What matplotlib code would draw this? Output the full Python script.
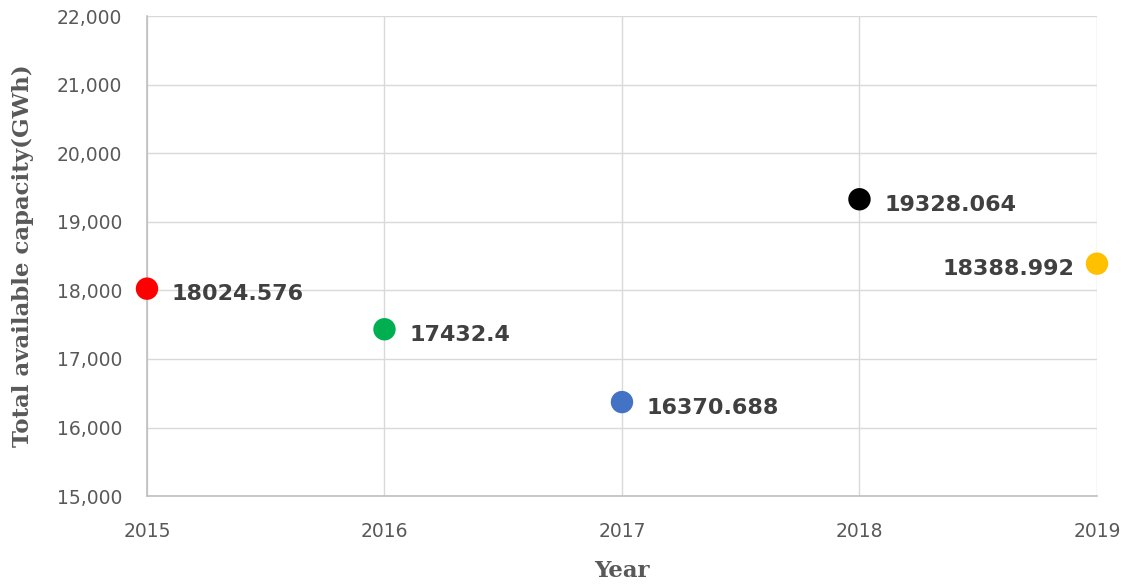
import matplotlib.pyplot as plt
from matplotlib.ticker import FuncFormatter

# yearly total available capacity (GWh)
years = [2015, 2016, 2017, 2018, 2019]
capacity = [18024.576, 17432.4, 16370.688, 19328.064, 18388.992]
point_colors = ['#FF0000', '#00B050', '#4472C4', '#000000', '#FFC000']
value_labels = ['18024.576', '17432.4', '16370.688', '19328.064', '18388.992']

fig = plt.figure(figsize=(11.35, 5.85), dpi=100)
ax = fig.add_axes([0.1295, 0.152, 0.837, 0.8206])

ax.scatter(years, capacity, s=260, c=point_colors, zorder=3, clip_on=False,
           linewidths=0)

# value labels next to each point, last one sits on the left
for i, (x, y, txt) in enumerate(zip(years, capacity, value_labels)):
    if i == len(years) - 1:
        off, ha = (-16, 'right')
    else:
        off, ha = (18, 'left')
    ax.annotate(txt, (x, y), xytext=(off, -4), textcoords='offset points',
                ha=ha, va='center', fontsize=16, fontweight='bold',
                color='#404040', family='DejaVu Sans')

ax.set_xlim(2015, 2019)
ax.set_ylim(15000, 22000)
ax.set_xticks(years)
ax.set_yticks(range(15000, 22001, 1000))
ax.yaxis.set_major_formatter(FuncFormatter(lambda v, p: f'{int(v):,}'))

ax.grid(True, color='#d9d9d9', linewidth=1)
ax.set_axisbelow(True)
for side in ['top', 'right']:
    ax.spines[side].set_visible(False)
for side in ['left', 'bottom']:
    ax.spines[side].set_color('#bfbfbf')
    ax.spines[side].set_linewidth(1.2)

ax.tick_params(length=0, labelsize=13.5, labelcolor='#595959')
ax.tick_params(axis='y', pad=18)
ax.tick_params(axis='x', pad=19)
for lab in ax.get_xticklabels() + ax.get_yticklabels():
    lab.set_family('DejaVu Sans')

ax.set_xlabel('Year', family='DejaVu Serif', fontweight='bold',
              fontsize=16.5, color='#595959', labelpad=13)
ax.set_ylabel('Total available capacity(GWh)', family='DejaVu Serif',
              fontweight='bold', fontsize=16.5, color='#595959', labelpad=16)

fig.savefig('out.png', dpi=100)
